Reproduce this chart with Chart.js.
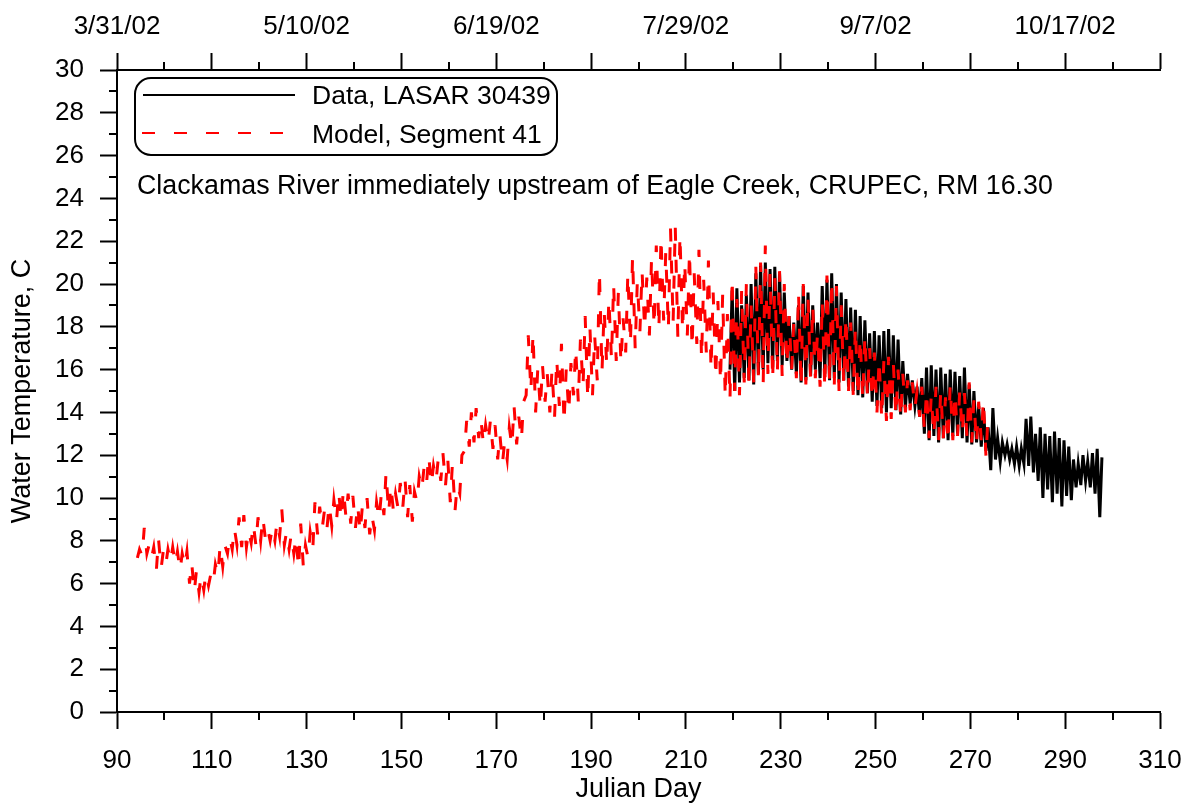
<!DOCTYPE html>
<html>
<head>
<meta charset="utf-8">
<title>Clackamas River water temperature</title>
<script src="https://cdn.jsdelivr.net/npm/chart.js@4.4.1/dist/chart.umd.min.js"></script>
<style>
  html, body { margin: 0; padding: 0; background: #fff; }
  canvas { display: block; }
</style>
</head>
<body>
<canvas id="chart" width="1194" height="806"></canvas>
<script>
// daily min / max, one entry per Julian day
const modelFirstDay = 94;
const modelLow = [
  7.2, 7.3, 7.4, 7.2, 6.6, 6.7, 6.9, 7.0, 6.9, 6.6,   // 94-103
  6.8, 6.0, 5.6, 5.6, 5.7, 5.9, 6.0, 6.4, 6.8, 7.4,   // 104-113
  7.6, 7.8, 7.7, 7.7, 7.9, 7.8, 8.0, 8.1, 8.0, 8.0,   // 114-123
  8.2, 7.8, 7.6, 7.4, 6.7, 6.8, 7.2, 7.6, 8.3, 8.6,   // 124-133
  8.6, 8.7, 8.9, 9.0, 9.1, 8.8, 8.6, 8.4, 8.6, 8.3,   // 134-143
  8.5, 9.0, 9.2, 9.3, 9.4, 9.5, 9.6, 9.1, 8.9, 9.8,   // 144-153
  10.4, 10.7, 10.6, 10.8, 10.8, 10.6, 9.8, 9.4, 10.2, 12.2, // 154-163
  12.4, 12.6, 12.8, 12.5, 12.6, 12.3, 11.8, 11.6, 11.8, 12.4, // 164-173
  12.5, 12.7, 14.8, 15.0, 14.0, 14.2, 14.5, 14.0, 13.8, 14.3, // 174-183
  13.5, 14.0, 14.8, 14.5, 15.2, 14.6, 14.8, 15.5, 15.9, 16.2, // 184-193
  16.5, 16.4, 16.3, 16.8, 17.2, 17.0, 17.8, 17.9, 17.6, 18.0, // 194-203
  17.9, 18.3, 17.9, 18.2, 17.5, 17.8, 17.6, 17.0, 17.2, 16.5, // 204-213
  16.8, 16.0, 15.6, 15.4, 14.7, 14.6, 15.0, 14.8, 15.4, 15.3, // 214-223
  15.4, 15.6, 15.3, 15.8, 15.5, 15.9, 15.7, 16.2, 16.0, 15.6, // 224-233
  15.2, 15.3, 15.5, 15.6, 15.2, 15.1, 15.4, 15.3, 15.0, 15.3, // 234-243
  15.0, 14.8, 14.7, 14.6, 14.7, 14.6, 14.0, 13.7, 13.6, 13.7, // 244-253
  13.8, 13.7, 14.0, 14.1, 14.2, 13.8, 13.2, 12.8, 12.9, 12.7, // 254-263
  12.8, 12.6, 12.7, 12.9, 13.0, 12.8, 12.6, 12.5, 12.7, 11.9  // 264-273
];
const modelHigh = [
  7.6, 8.6, 7.8, 7.7, 8.1, 7.5, 7.6, 7.7, 7.5, 7.4,
  7.5, 7.0, 6.6, 6.4, 6.5, 6.4, 6.9, 7.8, 7.8, 8.2,
  8.6, 9.1, 9.2, 8.5, 8.8, 9.1, 9.1, 8.6, 8.6, 8.9,
  9.5, 8.4, 8.3, 8.2, 8.8, 7.8, 8.4, 9.8, 9.6, 9.4,
  9.7, 9.9, 10.3, 10.4, 10.2, 10.1, 9.7, 9.6, 10.0, 9.2,
  9.8, 10.2, 11.2, 10.6, 10.2, 10.7, 10.9, 10.6, 10.3, 11.0,
  11.4, 12.0, 11.5, 11.8, 12.1, 11.9, 11.6, 10.6, 12.0, 13.6,
  14.0, 14.2, 13.7, 13.4, 13.6, 13.4, 13.0, 12.6, 13.3, 14.3,
  13.8, 14.5, 17.6, 17.7, 16.0, 16.2, 15.8, 16.0, 16.5, 17.2,
  16.0, 16.3, 17.0, 17.4, 18.5, 18.0, 17.6, 20.6, 18.8, 19.3,
  20.0, 19.6, 18.4, 20.5, 21.3, 20.1, 20.6, 20.3, 21.2, 21.8,
  22.2, 21.5, 22.6, 22.7, 22.3, 21.0, 21.5, 20.5, 21.6, 20.2,
  21.1, 19.6, 19.2, 19.5, 18.6, 20.3, 19.3, 19.7, 20.0, 19.0,
  20.8, 21.0, 21.8, 20.5, 20.3, 20.6, 20.0, 18.5, 18.2, 19.6,
  20.0, 19.4, 19.0, 17.7, 19.2, 20.4, 20.2, 19.9, 19.0, 18.5,
  18.2, 18.0, 17.5, 17.6, 17.0, 16.8, 16.5, 16.4, 16.6, 16.3,
  16.0, 15.8, 15.5, 15.4, 15.0, 15.2, 15.0, 14.8, 15.2, 15.0,
  14.7, 15.3, 14.9, 15.0, 14.9, 15.4, 14.6, 14.5, 14.6, 14.0
];
const dataFirstDay = 219;
const dataLow = [
  16.0, 15.0, 15.4, 15.6, 15.5, 15.3, 15.8, 16.0, 16.3, 16.1, // 219-228
  16.4, 16.2, 16.4, 16.0, 15.8, 15.4, 15.5, 15.7, 16.0, 15.6, // 229-238
  15.8, 15.5, 15.6, 15.4, 15.5, 15.2, 15.0, 14.8, 14.7, 14.9, // 239-248
  14.5, 14.3, 14.2, 14.0, 14.2, 14.1, 13.9, 14.2, 14.4, 14.3, // 249-258
  13.8, 13.0, 12.7, 12.9, 12.6, 12.8, 12.7, 12.9, 13.0, 12.8, // 259-268
  12.6, 12.5, 12.6, 12.4, 12.2, 11.3, 11.8, 11.7, 12.0, 11.8, // 269-278
  11.6, 11.5, 11.6, 11.5, 11.2, 10.8, 10.0, 10.4, 9.8, 10.2,  // 279-288
  9.6, 10.1, 9.9, 10.5, 10.6, 10.8, 10.5, 10.2, 9.1           // 289-297
];
const dataHigh = [
  19.7, 19.8, 19.0, 19.5, 20.0, 20.5, 20.9, 21.0, 20.7, 20.8,
  20.5, 19.6, 18.5, 18.2, 19.0, 19.9, 19.6, 19.0, 18.2, 19.9,
  20.2, 20.5, 20.0, 19.6, 19.3, 18.9, 18.8, 18.5, 18.3, 17.7,
  17.8, 17.6, 17.8, 17.9, 17.6, 17.4, 16.4, 15.8, 15.5, 15.2,
  15.6, 16.1, 16.2, 16.0, 16.1, 15.8, 16.0, 15.9, 15.7, 16.1,
  15.3, 15.0, 14.3, 14.2, 13.3, 14.2, 12.8, 12.6, 12.5, 12.3,
  12.4, 12.3, 13.7, 13.8, 13.0, 13.3, 13.0, 12.9, 13.1, 12.8,
  12.7, 12.4, 11.8, 11.6, 12.0, 11.7, 12.1, 12.3, 11.9
];

const dateTickDays = [90, 130, 170, 210, 250, 290];
const dateTickLabels = ['3/31/02', '5/10/02', '6/19/02', '7/29/02', '9/7/02', '10/17/02'];
const seriesLabels = ['Data, LASAR 30439', 'Model, Segment 41'];
const siteNote = 'Clackamas River immediately upstream of Eagle Creek, CRUPEC, RM 16.30';

const FONT = '"Liberation Sans", Arial, sans-serif';

// low in the early morning, high in the afternoon
function dailyPoints(firstDay, lows, highs) {
  var pts = [];
  lows.forEach(function(lo, i) {
    pts.push({ x: firstDay + i + 0.3, y: lo });
    pts.push({ x: firstDay + i + 0.75, y: highs[i] });
  });
  return pts;
}

const extras = {
  id: 'extras',
  afterDraw: function(chart) {
    var ctx = chart.ctx;
    var xs = chart.scales.x, xt = chart.scales.xTop, ys = chart.scales.y;
    ctx.save();
    // minor ticks
    ctx.strokeStyle = '#000';
    ctx.lineWidth = 2;
    ctx.beginPath();
    for (var d = 100; d < 310; d += 20) {
      var px = Math.round(xs.getPixelForValue(d));
      ctx.moveTo(px, xs.top); ctx.lineTo(px, xs.top + 8);
      ctx.moveTo(px, xt.bottom); ctx.lineTo(px, xt.bottom - 8);
    }
    for (var t = 1; t < 30; t += 2) {
      var py = Math.round(ys.getPixelForValue(t));
      ctx.moveTo(ys.right, py); ctx.lineTo(ys.right - 8, py);
    }
    ctx.stroke();

    // legend box
    var bx = 135, by = 78, bw = 422, bh = 77, r = 16;
    ctx.beginPath();
    ctx.roundRect(bx, by, bw, bh, r);
    ctx.fillStyle = '#fff';
    ctx.fill();
    ctx.lineWidth = 2;
    ctx.stroke();

    ctx.beginPath();
    ctx.moveTo(143, 95); ctx.lineTo(295, 95);
    ctx.strokeStyle = '#000';
    ctx.stroke();
    ctx.beginPath();
    ctx.setLineDash([13, 19]);
    ctx.moveTo(142, 133); ctx.lineTo(300, 133);
    ctx.strokeStyle = '#ff0000';
    ctx.stroke();
    ctx.setLineDash([]);

    ctx.fillStyle = '#000';
    ctx.font = '26.5px ' + FONT;
    ctx.textBaseline = 'alphabetic';
    ctx.textAlign = 'left';
    ctx.fillText(seriesLabels[0], 312, 104);
    ctx.fillText(seriesLabels[1], 312, 143);
    ctx.font = '26.8px ' + FONT;
    ctx.fillText(siteNote, 137, 194);
    ctx.restore();
  }
};

const tickGrid = {
  display: true,
  drawOnChartArea: false,
  drawTicks: true,
  tickLength: 17,
  tickWidth: 2,
  tickColor: '#000'
};
const axisBorder = { display: true, color: '#000', width: 2 };

function fixHorizontal(h) {
  return function(s) {
    s.height = h;
    s.paddingLeft = 0;
    s.paddingRight = 0;
  };
}

new Chart(document.getElementById('chart'), {
  type: 'line',
  data: {
    datasets: [
      {
        label: seriesLabels[1],
        data: dailyPoints(modelFirstDay, modelLow, modelHigh),
        borderColor: '#ff0000',
        borderWidth: 3,
        borderDash: [13, 19],
        pointRadius: 0,
        tension: 0,
        fill: false
      },
      {
        label: seriesLabels[0],
        data: dailyPoints(dataFirstDay, dataLow, dataHigh),
        borderColor: '#000000',
        borderWidth: 3,
        pointRadius: 0,
        tension: 0,
        fill: false
      }
    ]
  },
  options: {
    responsive: false,
    animation: false,
    devicePixelRatio: 1,
    layout: { padding: { left: 0, right: 34, top: 0, bottom: 0 } },
    plugins: {
      legend: { display: false },
      tooltip: { enabled: false }
    },
    scales: {
      x: {
        type: 'linear',
        position: 'bottom',
        min: 90, max: 310,
        grid: tickGrid,
        border: axisBorder,
        ticks: {
          stepSize: 20, autoSkip: false, maxRotation: 0, padding: 16,
          color: '#000', font: { family: FONT, size: 26 }
        },
        title: {
          display: true, text: 'Julian Day', color: '#000',
          font: { family: FONT, size: 27 }, padding: { top: 0, bottom: 0 }
        },
        afterFit: fixHorizontal(94)
      },
      xTop: {
        type: 'linear',
        position: 'top',
        min: 90, max: 310,
        grid: tickGrid,
        border: axisBorder,
        ticks: {
          stepSize: 20, autoSkip: false, maxRotation: 0, padding: 11,
          color: '#000', font: { family: FONT, size: 26 },
          callback: function(v) {
            var i = dateTickDays.indexOf(v);
            return i >= 0 ? dateTickLabels[i] : '';
          }
        },
        afterFit: fixHorizontal(70)
      },
      y: {
        type: 'linear',
        position: 'left',
        min: 0, max: 30,
        grid: tickGrid,
        border: axisBorder,
        ticks: {
          stepSize: 2, autoSkip: false, padding: 16,
          color: '#000', font: { family: FONT, size: 26 }
        },
        title: {
          display: true, text: 'Water Temperature, C', color: '#000',
          font: { family: FONT, size: 27 }, padding: { top: 6, bottom: 0 }
        },
        afterFit: function(s) {
          s.width = 117;
          s.paddingTop = 0;
          s.paddingBottom = 0;
        }
      }
    }
  },
  plugins: [extras]
});
</script>
</body>
</html>
